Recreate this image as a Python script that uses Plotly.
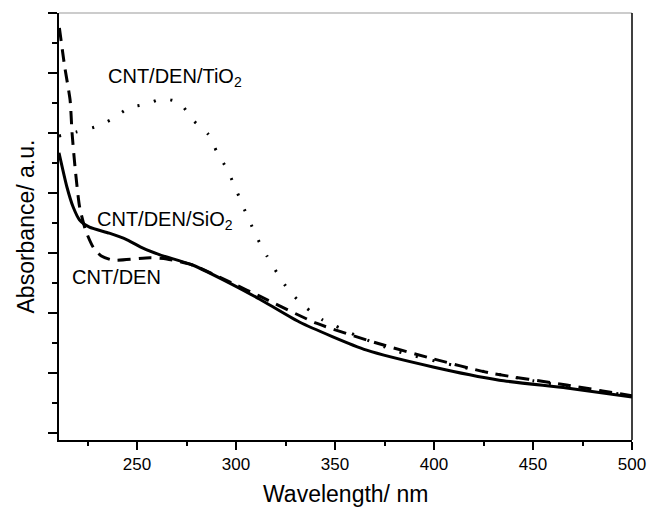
import plotly.graph_objects as go

# CNT/DEN/SiO2 (solid)
sio2_x = [210.6, 214.6, 217.7, 221, 226, 236, 245, 253, 261.6, 278, 298.5, 312, 332, 366, 399.5, 433, 467, 500]
sio2_y = [4.67, 4.10, 3.77, 3.55, 3.43, 3.33, 3.22, 3.08, 2.97, 2.80, 2.47, 2.23, 1.85, 1.38, 1.10, 0.88, 0.75, 0.60]

# CNT/DEN (dashed)
den_x = [210.8, 213.5, 216.2, 217.2, 218.7, 221, 224, 227.8, 232, 237.9, 256.6, 265, 278, 298.5, 312, 340.6, 371, 398, 428.3, 467, 500]
den_y = [6.75, 6.10, 5.55, 5.00, 4.43, 3.77, 3.38, 3.10, 2.95, 2.88, 2.92, 2.90, 2.80, 2.49, 2.28, 1.83, 1.50, 1.25, 1.00, 0.80, 0.62]

# CNT/DEN/TiO2 (dotted)
tio2_x = [210.6, 219.7, 228.8, 237.4, 246, 254.5, 263, 271.7, 277.8, 285.9, 290.4, 295.4, 299.5, 303, 307, 311, 315.6, 320.7, 326.8, 335, 344, 352.5, 361, 379.5, 388, 409.6, 450, 500]
tio2_y = [4.95, 5.02, 5.10, 5.23, 5.42, 5.48, 5.57, 5.50, 5.23, 4.98, 4.68, 4.40, 4.10, 3.82, 3.52, 3.23, 2.95, 2.67, 2.37, 2.10, 1.88, 1.75, 1.62, 1.38, 1.30, 1.13, 0.87, 0.62]

labels = ["CNT/DEN/TiO<sub>2</sub>", "CNT/DEN/SiO<sub>2</sub>", "CNT/DEN"]
label_x = [269.2, 264.0, 239.6]
label_y = [5.93, 3.55, 2.60]

FONT = "Arial, Liberation Sans, Helvetica, sans-serif"

fig = go.Figure()
fig.add_trace(go.Scatter(x=den_x, y=den_y, mode="lines", line=dict(color="black", width=3, dash="13px,8px", shape="spline", smoothing=0.6)))
fig.add_trace(go.Scatter(x=tio2_x, y=tio2_y, mode="lines", line=dict(color="black", width=3, dash="2px,15px", shape="spline", smoothing=0.6)))
fig.add_trace(go.Scatter(x=sio2_x, y=sio2_y, mode="lines", line=dict(color="black", width=3, shape="spline", smoothing=0.6)))

for t, x, y in zip(labels, label_x, label_y):
    fig.add_annotation(x=x, y=y, text=t, showarrow=False, font=dict(family=FONT, size=20, color="black"))

fig.add_annotation(xref="paper", yref="paper", x=0.5, y=-(494 - 440) / 427, text="Wavelength/ nm",
                   showarrow=False, xanchor="center", yanchor="middle", font=dict(family=FONT, size=23, color="black"))
fig.add_annotation(xref="paper", yref="paper", x=-(59 - 25) / 573, y=0.5, text="Absorbance/ a.u.", textangle=-90,
                   showarrow=False, xanchor="center", yanchor="middle", font=dict(family=FONT, size=23, color="black"))

fig.update_layout(
    width=649, height=508,
    margin=dict(l=59, r=17, t=13, b=68, autoexpand=False),
    paper_bgcolor="white", plot_bgcolor="white",
    showlegend=False,
    font=dict(family=FONT, color="black"),
    xaxis=dict(
        range=[210.6, 500], showline=True, linewidth=2, linecolor="black",
        ticks="outside", ticklen=8, tickwidth=2, tickcolor="black",
        tick0=250, dtick=50, showgrid=False, zeroline=False, automargin=False,
        tickfont=dict(size=17),
        minor=dict(ticks="outside", ticklen=4, tickwidth=2, tickcolor="black", dtick=25, tick0=225),
    ),
    yaxis=dict(
        range=[-0.1167, 7], showline=True, linewidth=2, linecolor="black",
        ticks="outside", ticklen=9, tickwidth=2, tickcolor="black",
        tick0=0, dtick=1, showgrid=False, zeroline=False, showticklabels=False, automargin=False,
        minor=dict(ticks="outside", ticklen=5, tickwidth=2, tickcolor="black", dtick=0.5, tick0=0),
    ),
)
fig.add_shape(type="line", xref="paper", yref="paper", x0=0, x1=1, y0=1, y1=1, line=dict(color="#999999", width=1))
fig.add_shape(type="line", xref="paper", yref="paper", x0=1, x1=1, y0=0, y1=1, line=dict(color="black", width=1.5))

fig.write_html("out.html", config={"displayModeBar": False},
               post_script="document.body.style.margin='0px';document.body.style.overflow='hidden';")
